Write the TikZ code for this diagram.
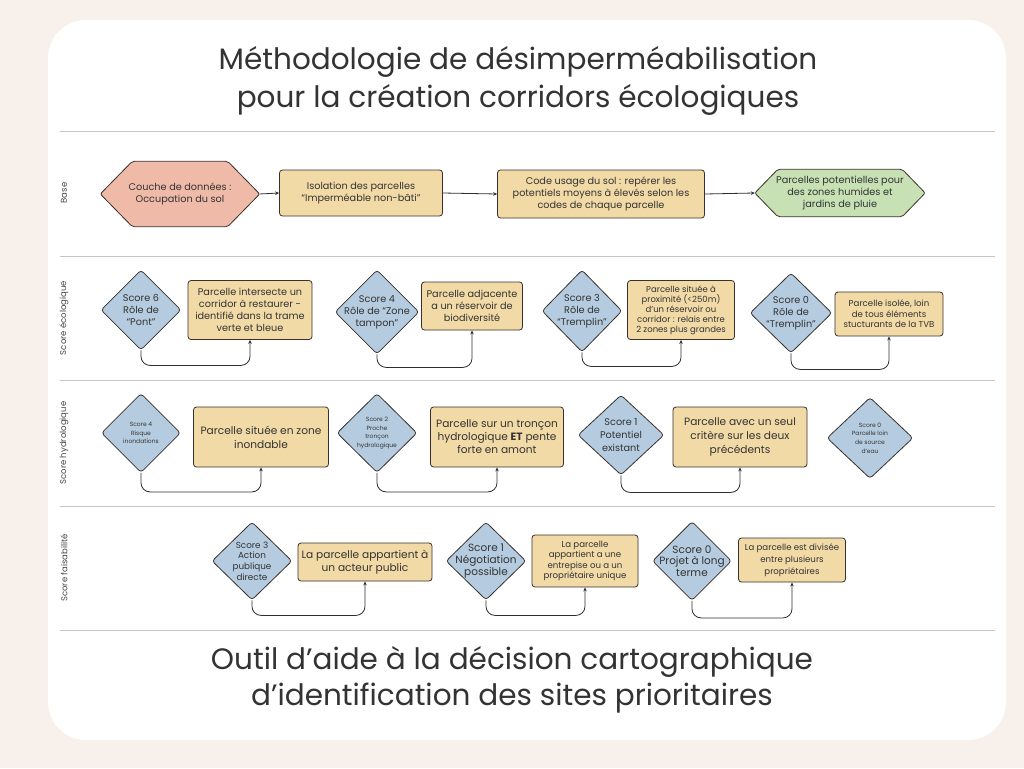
\documentclass[tikz,border=0pt]{standalone}
\usepackage{fontspec}
\setmainfont{Poppins}
\usetikzlibrary{shapes.geometric,arrows.meta,calc}
\definecolor{pagebg}{HTML}{F8F1EB}
\definecolor{pinkc}{HTML}{EFBAA8}
\definecolor{wheatc}{HTML}{F2DAA7}
\definecolor{bluec}{HTML}{B5CCE0}
\definecolor{greenc}{HTML}{C7E1B5}
\definecolor{bordc}{HTML}{3B302C}
\definecolor{txtc}{HTML}{333333}
\definecolor{rulec}{HTML}{C4C4C4}
\definecolor{linec}{HTML}{2E2E2E}
\pgfdeclarelayer{back}
\pgfdeclarelayer{bg}
\pgfsetlayers{back,bg,main}
\tikzset{
  box/.style={draw=bordc, fill=wheatc, rounded corners=3pt, line width=0.8pt, align=center, inner sep=1pt, text=txtc},
  dia/.style={diamond, draw=bordc, fill=bluec, line width=0.8pt, rounded corners=3pt, inner sep=0pt, aspect=1},
  dtext/.style={align=center, text=txtc, inner sep=0pt},
  hexbox/.style={align=center, text=txtc, inner sep=0pt},
  conn/.style={draw=linec, line width=0.8pt, rounded corners=9pt, -{Stealth[length=4pt,width=3.5pt]}},
  lane/.style={rotate=90, text=txtc!90, font={\fontsize{8.5}{10}\selectfont}},
  rulel/.style={draw=rulec, line width=0.8pt},
  f10/.style={font={\fontsize{9.7}{12}\selectfont}},
  f11/.style={font={\fontsize{10.6}{14}\selectfont}},
  f9/.style={font={\fontsize{8.6}{10.6}\selectfont}},
  f6/.style={font={\fontsize{6}{8.7}\selectfont}}
}
\begin{document}
\begin{tikzpicture}[x=1pt,y=-1pt]
\useasboundingbox (0,0) rectangle (1024,768);
\begin{pgfonlayer}{back}
\fill[pagebg] (0,0) rectangle (1024,768);
\fill[white, rounded corners=38pt] (48,20) rectangle (1006,740);
\end{pgfonlayer}

% titles
\node[align=center, text=txtc, font={\fontsize{29.5}{38}\selectfont}] (title) at (518,81) {Méthodologie de désimperméabilisation\\pour la création corridors écologiques};
\node[align=center, text=txtc, font={\fontsize{29.5}{36}\selectfont}] (foot) at (512,680) {Outil d’aide à la décision cartographique\\d’identification des sites prioritaires};

% rules
\foreach \yy in {131,256,380,506,630} \draw[rulel] (60,\yy) -- (995,\yy);

% lane labels
\node[lane] (lbase) at (64,193) {Base};
\node[lane] (leco) at (64,318) {Score écologique};
\node[lane] (lhyd) at (64,443) {Score hydrologique};
\node[lane] (lfai) at (64,568) {Score faisabilité};

% ---------- Base ----------
\node[hexbox, f10, minimum width=159pt, minimum height=65pt] (h1) at (180,194) {Couche de données :\\Occupation du sol};
\node[box, f10, minimum width=163pt, minimum height=46pt] (b1) at (361,193) {Isolation des parcelles\\“Imperméable non-bâti”};
\node[box, f10, minimum width=207pt, minimum height=48pt] (b2) at (601,194) {Code usage du sol : repérer les\\potentiels moyens à élevés selon les\\codes de chaque parcelle};
\node[hexbox, f10, minimum width=170pt, minimum height=47pt] (h2) at (840,193) {Parcelles potentielles pour\\des zones humides et\\jardins de pluie};
\begin{pgfonlayer}{bg}
\draw[fill=pinkc, draw=bordc, line width=0.8pt, rounded corners=2pt] (h1.west) -- ([xshift=32pt]h1.north west) -- ([xshift=-32pt]h1.north east) -- (h1.east) -- ([xshift=-32pt]h1.south east) -- ([xshift=32pt]h1.south west) -- cycle;
\draw[fill=greenc, draw=bordc, line width=0.8pt, rounded corners=2pt] (h2.west) -- ([xshift=23pt]h2.north west) -- ([xshift=-23pt]h2.north east) -- (h2.east) -- ([xshift=-23pt]h2.south east) -- ([xshift=23pt]h2.south west) -- cycle;
\end{pgfonlayer}
\draw[conn] (h1.east) -- (b1.west);
\draw[conn] (b1.east) -- (b2.west);
\draw[conn] (b2.east) -- (h2.west);

% ---------- Score écologique ----------
\node[dia, minimum width=80pt, minimum height=80pt] (d1) at (141,310) {};
\node[dtext, f10] (t1) at (d1) {Score 6\\Rôle de\\“Pont”};
\node[box, f10, minimum width=124pt, minimum height=59pt] (e1) at (250,310) {Parcelle intersecte un\\corridor à restaurer -\\identifié dans la trame\\verte et bleue};
\draw[conn] (d1.south) -- ++(0,15) -| (e1.south);

\node[dia, minimum width=84pt, minimum height=84pt] (d2) at (377,312) {};
\node[dtext, f10] (t2) at (d2) {Score 4\\Rôle de “Zone\\tampon”};
\node[box, f10, minimum width=101pt, minimum height=48pt] (e2) at (472,306) {Parcelle adjacente\\a un réservoir de\\biodiversité};
\draw[conn] (d2.south) -- ++(0,13) -| (e2.south);

\node[dia, minimum width=80pt, minimum height=82pt] (d3) at (582,311) {};
\node[dtext, f10] (t3) at (d3) {Score 3\\Rôle de\\“Tremplin”};
\node[box, minimum width=107pt, minimum height=59pt, font={\fontsize{8.5}{10}\selectfont}] (e3) at (681,310) {Parcelle située à\\proximité (<250m)\\d’un réservoir ou\\corridor : relais entre\\2 zones plus grandes};
\draw[conn] (d3.south) -- ++(0,14) -| (e3.south);

\node[dia, minimum width=82pt, minimum height=80pt] (d4) at (791,313) {};
\node[dtext, f10] (t4) at (d4) {Score 0\\Rôle de\\“Tremplin”};
\node[box, f9, minimum width=108pt, minimum height=44pt] (e4) at (889,314) {Parcelle isolée, loin\\de tous éléments\\stucturants de la TVB};
\draw[conn] (d4.south) -- ++(0,16) -| (e4.south);

% ---------- Score hydrologique ----------
\node[dia, minimum width=79pt, minimum height=79pt] (d5) at (141,433) {};
\node[dtext, f6] (t5) at (d5) {Score 4\\Risque\\inondations};
\node[box, f11, minimum width=135pt, minimum height=60pt] (k1) at (261,437) {Parcelle située en zone\\inondable};
\draw[conn] (d5.south) -- ++(0,19) -| (k1.south);

\node[dia, minimum width=80pt, minimum height=79pt] (d6) at (377,433) {};
\node[dtext, f6] (t6) at (d6) {Score 2\\Proche\\tronçon\\hydrologique};
\node[box, minimum width=133pt, minimum height=60pt, font={\fontsize{10.6}{13}\selectfont}] (k2) at (497,437) {Parcelle sur un tronçon\\hydrologique \textbf{ET} pente\\forte en amont};
\draw[conn] (d6.south) -- ++(0,19) -| (k2.south);

\node[dia, minimum width=86pt, minimum height=80pt] (d7) at (621,435) {};
\node[dtext, font={\fontsize{9.7}{13}\selectfont}] (t7) at (d7) {Score 1\\Potentiel\\existant};
\node[box, f11, minimum width=134pt, minimum height=60pt] (k3) at (740,437) {Parcelle avec un seul\\critère sur les deux\\précédents};
\draw[conn] (d7.south) -- ++(0,17) -| (k3.south);

\node[dia, minimum width=86pt, minimum height=81pt] (d8) at (870,438) {};
\node[dtext, f6] (t8) at (d8) {Score 0\\Parcelle loin\\de source\\d’eau};

% ---------- Score faisabilité ----------
\node[dia, minimum width=80pt, minimum height=78pt] (d9) at (252,561) {};
\node[dtext, font={\fontsize{8.8}{10.6}\selectfont}] (t9) at (d9) {Score 3\\Action\\publique\\directe};
\node[box, font={\fontsize{10.6}{12.8}\selectfont}, minimum width=134pt, minimum height=38pt] (g1) at (365,562) {La parcelle appartient à\\un acteur public};
\draw[conn] (d9.south) -- ++(0,15) -| (g1.south);

\node[dia, minimum width=80pt, minimum height=78pt] (d10) at (486,561) {};
\node[dtext, font={\fontsize{10.5}{11.8}\selectfont}] (t10) at (d10) {Score 1\\Négotiation\\possible};
\node[box, font={\fontsize{8.6}{10.5}\selectfont}, minimum width=106pt, minimum height=52pt] (g2) at (585,561) {La parcelle\\appartient a une\\entrepise ou a un\\propriétaire unique};
\draw[conn] (d10.south) -- ++(0,15) -| (g2.south);

\node[dia, minimum width=79pt, minimum height=79pt] (d11) at (692,561) {};
\node[dtext, font={\fontsize{10.5}{11.8}\selectfont}] (t11) at (d11) {Score 0\\Projet à long\\terme};
\node[box, font={\fontsize{8.6}{12}\selectfont}, minimum width=107pt, minimum height=44pt] (g3) at (792,560) {La parcelle est divisée\\entre plusieurs\\propriétaires};
\draw[conn] (d11.south) -- ++(0,17) -| (g3.south);
\end{tikzpicture}
\end{document}
